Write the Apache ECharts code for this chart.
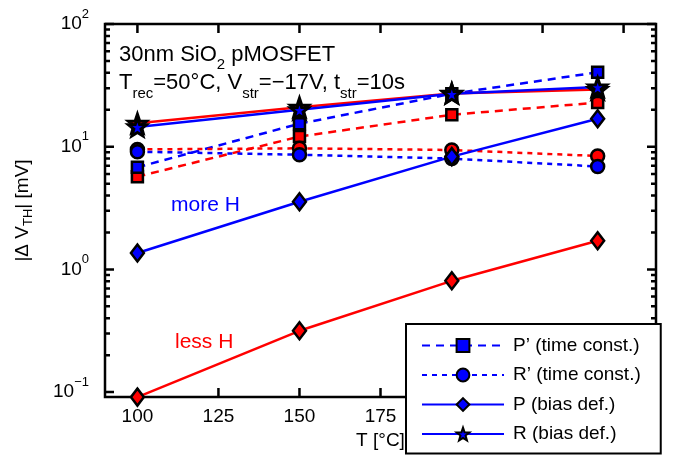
<!DOCTYPE html>
<html>
<head>
<meta charset="utf-8">
<script src="https://cdn.jsdelivr.net/npm/echarts@6/dist/echarts.min.js"></script>
<style>html,body{margin:0;padding:0;background:#fff;}#c{width:678px;height:462px;}</style>
</head>
<body>
<div id="c"></div>
<script>
// ---- data ----
const temps = [100, 150, 197, 242];               // T [°C]
const pPrimeBlue = [6.8, 15.4, 27.0, 40.4];       // P' (time const.), more H
const pPrimeRed  = [5.7, 12.1, 18.2, 22.9];       // P' (time const.), less H
const rPrimeBlue = [9.1, 8.6, 8.0, 6.9];          // R' (time const.), more H
const rPrimeRed  = [9.5, 9.7, 9.4, 8.4];          // R' (time const.), less H
const pBlue = [1.36, 3.56, 8.3, 16.9];            // P (bias def.), more H
const pRed  = [0.091, 0.316, 0.807, 1.71];        // P (bias def.), less H
const rBlue = [14.5, 20.0, 27.0, 30.7];           // R (bias def.), more H
const rRed  = [15.5, 21.0, 27.2, 29.2];           // R (bias def.), less H
const xTicks = [100, 125, 150, 175, 200, 225, 250];
const yDecades = [-1, 0, 1, 2];                   // 10^-1 ... 10^2

const FONT = 'Liberation Sans, Arial, Helvetica, sans-serif';
const BLUE = '#0000ff', RED = '#ff0000';
const STAR = 'path://M0,-10L2.35,-3.24L9.51,-3.09L3.8,1.24L5.88,8.09L0,4.6L-5.88,8.09L-3.8,1.24L-9.51,-3.09L-2.35,-3.24Z';

const GW = 551, GH = 373;
const xMin = 90, xMax = 260;
const yMin = -1.04, yMax = 2;
const yMinor = [];
yDecades.slice(0, -1).forEach(d => { for (let k = 2; k <= 9; k++) yMinor.push(d + Math.log10(k)); });

function mk(name, vals, color, dash, symbol, size, bw) {
  return {
    name: name, type: 'line', clip: false, z: 3,
    data: temps.map((t, i) => [t, Math.log10(vals[i])]),
    symbol: symbol, symbolSize: size,
    lineStyle: { color: color, width: 2.5, type: dash },
    itemStyle: { color: color, borderColor: '#000', borderWidth: bw },
    emphasis: { disabled: true }
  };
}

// inward box ticks as short black line segments (pixel length converted to axis units)
const pxX = (xMax - xMin) / GW, pxY = (yMax - yMin) / GH;
function tickLines(segs) {
  const data = [];
  segs.forEach(s => { data.push(s[0], s[1], null); });
  return { type: 'line', silent: true, clip: false, z: 2, symbol: 'none', connectNulls: false,
    data: data, lineStyle: { color: '#000', width: 2.5, type: 'solid' }, emphasis: { disabled: true } };
}
const xSegs = [];
xTicks.forEach(v => {
  xSegs.push([[v, yMin], [v, yMin + 9 * pxY]]);
  xSegs.push([[v, yMax], [v, yMax - 9 * pxY]]);
});
const yMajSegs = [], yMinSegs = [];
yDecades.forEach(v => {
  yMajSegs.push([[xMin, v], [xMin + 9 * pxX, v]]);
  yMajSegs.push([[xMax, v], [xMax - 9 * pxX, v]]);
});
yMinor.forEach(v => {
  yMinSegs.push([[xMin, v], [xMin + 5 * pxX, v]]);
  yMinSegs.push([[xMax, v], [xMax - 5 * pxX, v]]);
});

const series = [
  tickLines(xSegs), tickLines(yMajSegs), tickLines(yMinSegs),
  mk('P’ red', pPrimeRed, RED, [8, 6], 'rect', 11, 2.5),
  mk('P’ (time const.)', pPrimeBlue, BLUE, [8, 6], 'rect', 11, 2.5),
  mk('R’ red', rPrimeRed, RED, [5, 5], 'circle', 13, 2.5),
  mk('R’ (time const.)', rPrimeBlue, BLUE, [5, 5], 'circle', 13, 2.5),
  mk('P red', pRed, RED, 'solid', 'diamond', [13, 17], 2.5),
  mk('P (bias def.)', pBlue, BLUE, 'solid', 'diamond', [13, 17], 2.5),
  mk('R red', rRed, RED, 'solid', STAR, [18, 18], 3),
  mk('R (bias def.)', rBlue, BLUE, 'solid', STAR, [18, 18], 3)
];

const noLine = { show: false, onZero: false };
const chart = echarts.init(document.getElementById('c'), null, { renderer: 'canvas' });
chart.setOption({
  animation: false,
  backgroundColor: '#fff',
  textStyle: { fontFamily: FONT },
  grid: { left: 105, top: 24, width: GW, height: GH, show: true, borderColor: '#000', borderWidth: 2.5, backgroundColor: '#fff' },
  xAxis: { type: 'value', min: xMin, max: xMax, position: 'bottom',
      axisLine: noLine, splitLine: { show: false }, axisTick: { show: false },
      axisLabel: { show: true, customValues: xTicks, color: '#000', fontSize: 19, fontFamily: FONT, margin: 10 },
      name: 'T [°C]', nameLocation: 'middle', nameGap: 30,
      nameTextStyle: { color: '#000', fontSize: 19, fontFamily: FONT } },
  yAxis: { type: 'value', min: yMin, max: yMax, position: 'left',
      axisLine: noLine, splitLine: { show: false }, axisTick: { show: false },
      axisLabel: { show: true, customValues: yDecades, margin: 16, color: '#000', fontFamily: FONT,
        formatter: v => { const e = Math.round(v); return '{b|10}{s|' + (e < 0 ? '−' + (-e) : e) + '}'; },
        rich: { b: { fontSize: 19, fontFamily: FONT, color: '#000' },
                s: { fontSize: 13, fontFamily: FONT, color: '#000', padding: [0, 0, 20, 0] } } },
      name: '|Δ V{s|TH}| [mV]', nameLocation: 'middle', nameGap: 70,
      nameTextStyle: { color: '#000', fontSize: 19, fontFamily: FONT,
        rich: { s: { fontSize: 13, fontFamily: FONT, color: '#000', padding: [11, 0, 0, 0] } } } },
  legend: {
    data: ['P’ (time const.)', 'R’ (time const.)', 'P (bias def.)', 'R (bias def.)'],
    orient: 'vertical', left: 406, top: 324, height: 114,
    backgroundColor: '#fff', borderColor: '#000', borderWidth: 2,
    padding: [12, 20, 10, 15],
    itemWidth: 82, itemHeight: 16, itemGap: 10.5,
    textStyle: { color: '#000', fontSize: 19, fontFamily: FONT, padding: [0, 0, 0, 4] },
    selectedMode: false, z: 10
  },
  graphic: [
    { type: 'text', x: 119, y: 55, z: 5,
      style: { text: '{b|30nm SiO}{s|2}{b| pMOSFET}', verticalAlign: 'middle',
        rich: { b: { fontSize: 22, fontFamily: FONT, fill: '#000' },
                s: { fontSize: 15, fontFamily: FONT, fill: '#000', padding: [20, 0, 0, 0] } } } },
    { type: 'text', x: 119, y: 83, z: 5,
      style: { text: '{b|T}{s|rec}{b|=50°C, V}{s|str}{b|=−17V, t}{s|str}{b|=10s}', verticalAlign: 'middle',
        rich: { b: { fontSize: 22, fontFamily: FONT, fill: '#000' },
                s: { fontSize: 15, fontFamily: FONT, fill: '#000', padding: [22, 0, 0, 0] } } } },
    { type: 'text', x: 171, y: 205, z: 5,
      style: { text: 'more H', fontSize: 21, fontFamily: FONT, fill: BLUE, verticalAlign: 'middle' } },
    { type: 'text', x: 175, y: 342, z: 5,
      style: { text: 'less H', fontSize: 21, fontFamily: FONT, fill: RED, verticalAlign: 'middle' } }
  ],
  series: series
});
</script>
</body>
</html>
